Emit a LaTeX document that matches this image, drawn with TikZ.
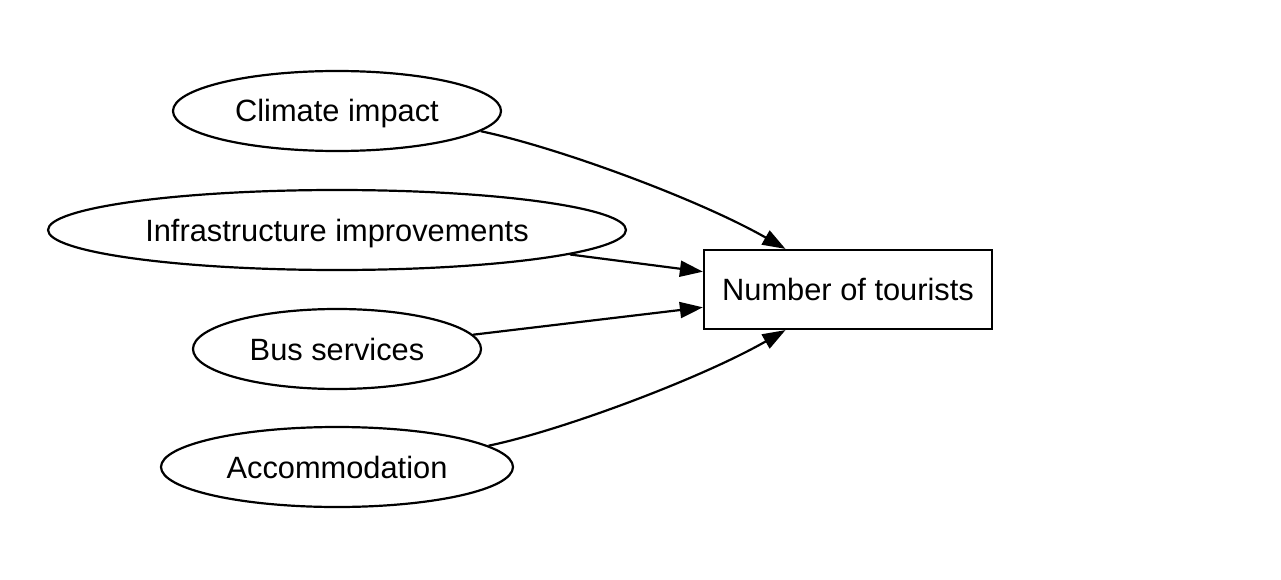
\documentclass[tikz,border=0pt]{standalone}
\usepackage{fontspec}
\setmainfont{Liberation Sans}
\usetikzlibrary{shapes.geometric,arrows.meta}
\begin{document}
\begin{tikzpicture}[x=1pt,y=-1pt,
  every node/.style={font=\fontsize{30.8}{36}\selectfont,text height=22pt,text depth=0pt},
  factor/.style={draw,ellipse,line width=2.2pt,inner sep=0pt,minimum height=80pt},
  outcome/.style={draw,rectangle,line width=2.2pt,inner sep=0pt,minimum width=288pt,minimum height=79pt},
  link/.style={line width=2.2pt,-{Triangle[length=23pt,width=16pt]}}]
\useasboundingbox (0,0) rectangle (1281,580);
\node[factor,minimum width=328pt] (clim) at (337,111) {Climate impact};
\node[factor,minimum width=578pt] (infra) at (337,230) {Infrastructure improvements};
\node[factor,minimum width=288pt] (bus) at (337,349) {Bus services};
\node[factor,minimum width=352pt] (acc) at (337,467) {Accommodation};
\node[outcome] (tour) at (848,289.5) {Number of tourists};
\draw[link] (clim.-8.5) .. controls (560,148) and (700,200) .. (tour.147.5);
\draw[link] (infra.-6.7) -- (tour.173.4);
\draw[link] (bus.6.8) -- (tour.-173.4);
\draw[link] (acc.8.1) .. controls (560,431) and (700,379) .. (tour.-147.5);
\end{tikzpicture}
\end{document}
